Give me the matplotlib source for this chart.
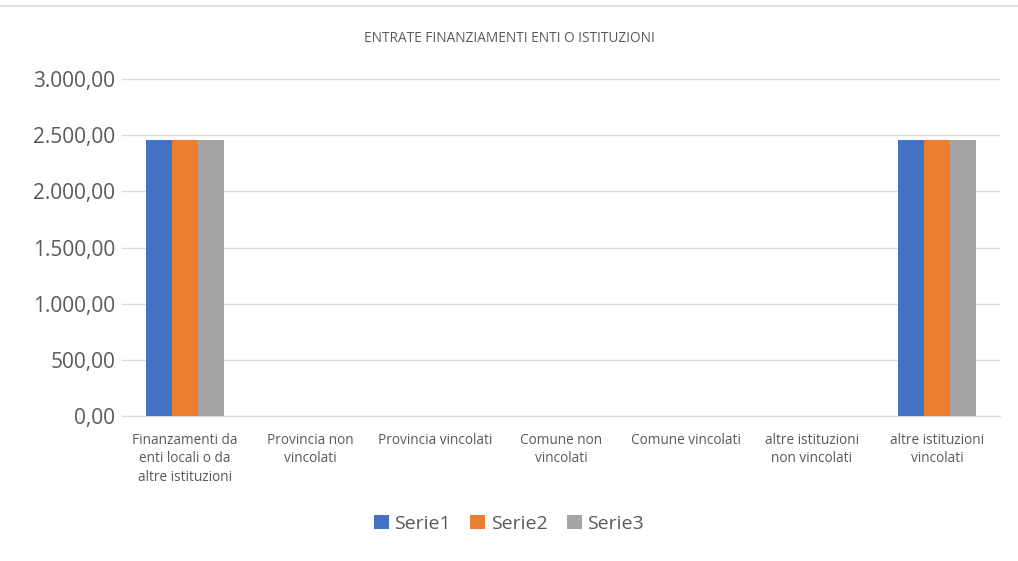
import numpy as np
import matplotlib
matplotlib.use('Agg')
from matplotlib import pyplot as plt
from matplotlib.ticker import FuncFormatter
from matplotlib.lines import Line2D

plt.rcParams['font.family'] = ['Open Sans', 'DejaVu Sans']

categories = ['Finanzamenti da\nenti locali o da\naltre istituzioni', 'Provincia non\nvincolati',
              'Provincia vincolati', 'Comune non\nvincolati', 'Comune vincolati',
              'altre istituzioni\nnon vincolati', 'altre istituzioni\nvincolati']
serie1 = [2455, 0, 0, 0, 0, 0, 2455]
serie2 = [2455, 0, 0, 0, 0, 0, 2455]
serie3 = [2455, 0, 0, 0, 0, 0, 2455]
series_names = ['Serie1', 'Serie2', 'Serie3']
colors = ['#4472C4', '#ED7D31', '#A5A5A5']
txt = '#595959'

fig = plt.figure(figsize=(10.18, 5.61), dpi=100)
ax = fig.add_axes([0.12, 0.2585, 0.862, 0.6005])

x = np.arange(len(categories))
w = 0.207
for i, (vals, name) in enumerate(zip([serie1, serie2, serie3], series_names)):
    ax.bar(x + (i - 1) * w, vals, w, color=colors[i], label=name, zorder=3)

ax.set_xlim(-0.5, len(categories) - 0.5)
ax.set_ylim(0, 3000)
ax.set_yticks(np.arange(0, 3001, 500))

def it_fmt(v, pos):
    s = '{:,.2f}'.format(v)
    return s.replace(',', 'X').replace('.', ',').replace('X', '.')

ax.yaxis.set_major_formatter(FuncFormatter(it_fmt))
ax.grid(axis='y', color='#D9D9D9', linewidth=1, zorder=0)
for s in ['top', 'right', 'left']:
    ax.spines[s].set_visible(False)
ax.spines['bottom'].set_color('#D9D9D9')
ax.tick_params(axis='y', length=0, labelsize=15, labelcolor=txt, pad=5)
ax.tick_params(axis='x', length=0, labelsize=9.8, labelcolor=txt, pad=12)
ax.set_xticks(x)
ax.set_xticklabels(categories, va='top', linespacing=1.35)

fig.text(0.5, 0.932, 'ENTRATE FINANZIAMENTI ENTI O ISTITUZIONI', ha='center', va='center',
         fontsize=9.8, color=txt)

ax.legend(loc='center', bbox_to_anchor=(0.5, 0.066), bbox_transform=fig.transFigure,
          ncol=3, frameon=False, fontsize=14, labelcolor=txt, handlelength=0.75,
          handleheight=0.75, handletextpad=0.3, columnspacing=1.0)

fig.add_artist(Line2D([0, 1], [1 - 5.5 / 561, 1 - 5.5 / 561], transform=fig.transFigure,
                      color='#D9D9D9', linewidth=1.2))

fig.savefig('out.png', dpi=100)
